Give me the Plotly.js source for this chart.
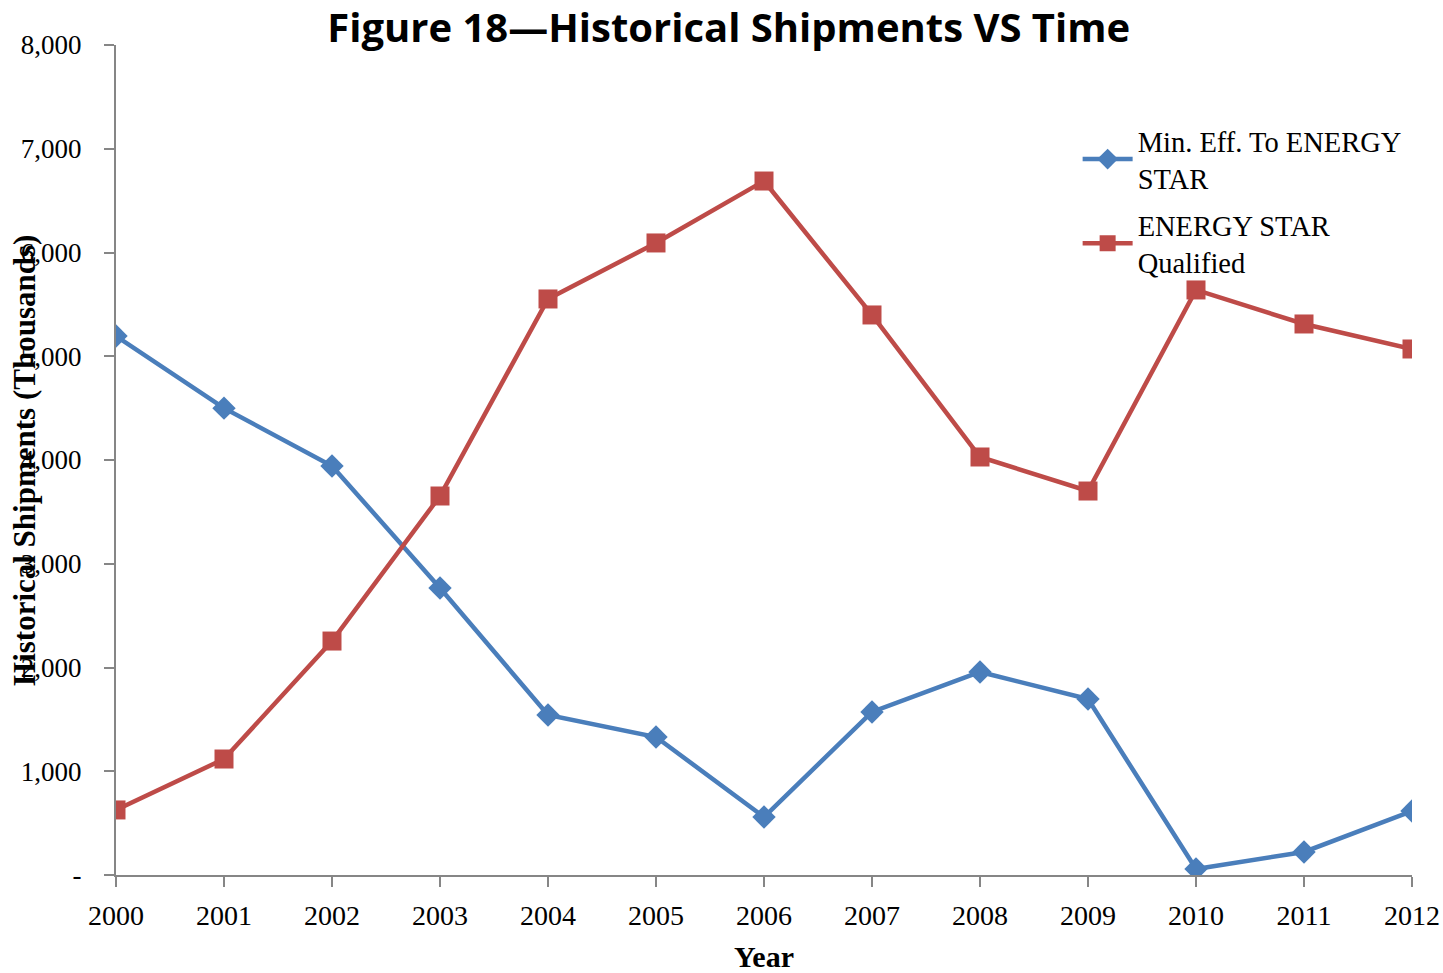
<!DOCTYPE html>
<html>
<head>
<meta charset="utf-8">
<script src="https://cdn.plot.ly/plotly-3.0.1.min.js"></script>
<style>html,body{margin:0;padding:0;background:#fff;}#chart{width:1443px;height:973px;}</style>
</head>
<body>
<div id="chart"></div>
<script>
var years = [2000, 2001, 2002, 2003, 2004, 2005, 2006, 2007, 2008, 2009, 2010, 2011, 2012];
var minEffToEnergyStar = [5195, 4500, 3942, 2766, 1542, 1330, 559, 1571, 1957, 1696, 58, 222, 617];
var energyStarQualified = [627, 1118, 2255, 3653, 5552, 6092, 6689, 5398, 4029, 3701, 5639, 5311, 5070];
var yTickVals = [0, 1000, 2000, 3000, 4000, 5000, 6000, 7000, 8000];
var yTickText = ['-', '1,000', '2,000', '3,000', '4,000', '5,000', '6,000', '7,000', '8,000'];
var seriesNames = ['Min. Eff. To ENERGY<br>STAR', 'ENERGY STAR<br>Qualified'];

var serif = '"Liberation Serif", "DejaVu Serif", serif';

var traces = [
  {
    x: years, y: minEffToEnergyStar, name: seriesNames[0], legendgroup: 'g1',
    type: 'scatter', mode: 'lines+markers',
    line: {color: '#4A7EBB', width: 4.5},
    marker: {symbol: 'diamond', size: 18, color: '#4A7EBB'}
  },
  {
    x: years, y: energyStarQualified, name: seriesNames[1], legendgroup: 'g2',
    type: 'scatter', mode: 'lines+markers',
    line: {color: '#BE4B48', width: 4.5},
    marker: {symbol: 'square', size: 19, color: '#BE4B48'}
  }
];

var layout = {
  width: 1443, height: 973,
  paper_bgcolor: '#fff', plot_bgcolor: '#fff',
  margin: {l: 116, r: 31, t: 45, b: 98},
  title: {
    text: '<b>Figure 18\u2014Historical Shipments VS Time</b>',
    font: {family: '"Open Sans", "Noto Sans", sans-serif', size: 40, color: '#000'},
    x: 0.505, xanchor: 'center', y: 0.971, yanchor: 'middle'
  },
  xaxis: {
    range: [2000, 2012], tickvals: years, ticktext: years.map(String),
    showgrid: false, zeroline: false, showline: true, linecolor: '#868686', linewidth: 2,
    ticks: 'outside', ticklen: 10, tickwidth: 2, tickcolor: '#868686',
    ticklabelstandoff: 4,
    tickfont: {family: serif, size: 28, color: '#000'},
    title: {text: '<b>Year</b>', font: {family: serif, size: 30, color: '#000'}, standoff: 40}
  },
  yaxis: {
    range: [0, 8000], tickvals: yTickVals, ticktext: yTickText,
    showgrid: false, zeroline: false, showline: true, linecolor: '#868686', linewidth: 2,
    ticks: 'outside', ticklen: 10, tickwidth: 2, tickcolor: '#868686',
    ticklabelstandoff: 17,
    tickfont: {family: serif, size: 27, color: '#000'}
  },
  showlegend: true,
  legend: {
    x: 0.742, y: 0.915, xanchor: 'left', yanchor: 'top',
    font: {family: serif, size: 28.5, color: '#000'},
    bgcolor: 'rgba(0,0,0,0)', itemwidth: 50, tracegroupgap: 7
  },
  annotations: [
    {
      text: '<b>Historical Shipments (Thousands)</b>',
      xref: 'paper', yref: 'paper', x: -0.071, y: 0.5, xanchor: 'center', yanchor: 'middle',
      textangle: -90, showarrow: false,
      font: {family: serif, size: 31, color: '#000'}
    }
  ]
};

Plotly.newPlot('chart', traces, layout, {displayModeBar: false});
</script>
</body>
</html>
